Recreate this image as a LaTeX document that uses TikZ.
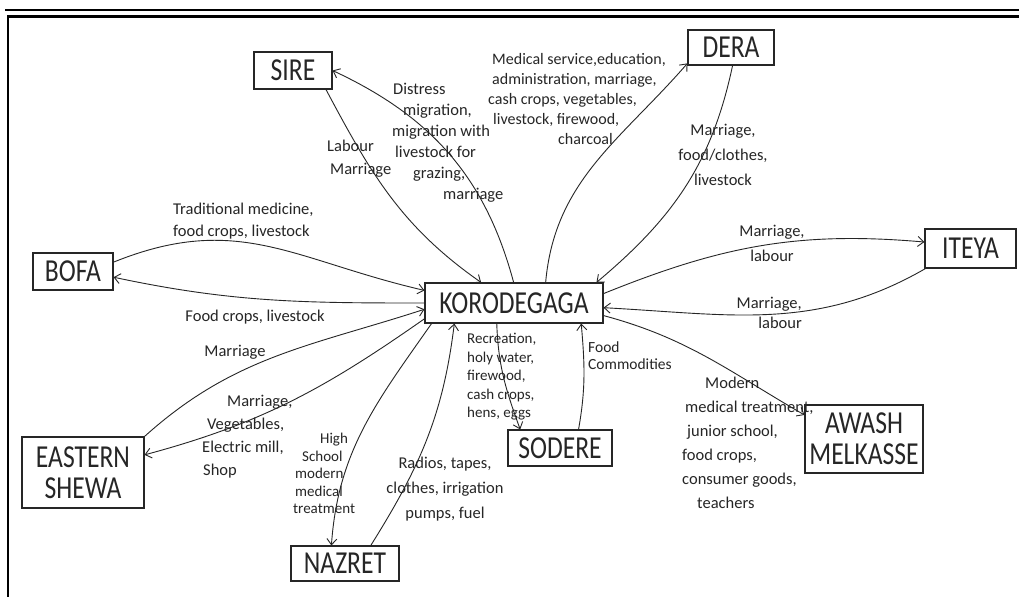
\documentclass[tikz,border=0pt]{standalone}
\usepackage{fontspec}
\setmainfont{Carlito}
\newfontfamily\boxfont[FakeStretch=0.8]{Carlito}
\usetikzlibrary{arrows.meta}
\definecolor{ink}{HTML}{262626}
\begin{document}
\begin{tikzpicture}[x=1pt,y=1pt,
  place/.style={draw=ink, line width=1.1pt, inner sep=0pt, text=ink, align=center,
    font=\boxfont\fontsize{32}{31}\selectfont},
  link/.style={draw=ink, line width=0.9pt, -{Straight Barb[length=6pt,width=10pt]}},
  lbl/.style={inner sep=0pt, text=ink, font=\fontsize{16.5}{22}\selectfont},
  slbl/.style={inner sep=0pt, text=ink, font=\fontsize{15}{18.5}\selectfont},
]
\useasboundingbox (0,0) rectangle (1019,-597);
\fill[white] (0,0) rectangle (1019,-597);
% frame
\draw[line width=2.2pt, black] (5,-10) -- (1019,-10);
\draw[line width=2.2pt, black] (1019,-16.5) -- (8,-16.5) -- (8,-597);

% places
\node[place, minimum width=78pt, minimum height=37pt] (sire) at (293,-70.5) {SIRE};
\node[place, minimum width=86pt, minimum height=35pt] (dera) at (731,-47.5) {DERA};
\node[place, minimum width=80pt, minimum height=37pt] (bofa) at (73,-271.5) {BOFA};
\node[place, minimum width=178pt, minimum height=40pt] (k) at (514,-303) {KORODEGAGA};
\node[place, minimum width=91pt, minimum height=39pt] (iteya) at (970.5,-248.5) {ITEYA};
\node[place, minimum width=118pt, minimum height=68pt] (awash) at (864,-439) {AWASH\\MELKASSE};
\node[place, minimum width=104pt, minimum height=36pt] (sodere) at (560,-448) {SODERE};
\node[place, minimum width=108pt, minimum height=35pt] (nazret) at (345,-563.5) {NAZRET};
\node[place, minimum width=122pt, minimum height=71pt] (es) at (83,-472.5) {EASTERN\\SHEWA};

% connectors
\draw[link] (sire.-30) to[out=-62,in=145] (k.148);
\draw[link] (k.91) to[out=105,in=-25] (sire.east);
\draw[link] (k.33) to[out=85,in=-131] (dera.200);
\draw[link] (dera.-85) to[out=-102,in=40] (k.14);
\draw[link] (bofa.13) to[out=22,in=167,looseness=1.1] (k.172);
\draw[link] (k.180) to[out=180,in=-12] (bofa.-8);
\draw[link] (k.6) to[out=22,in=175] (iteya.172);
\draw[link] (iteya.204) to[out=210,in=-3] (k.-3);
\draw[link] (k.-8) to[out=-15,in=150] (awash.158);
\draw[link] (k.230) to[out=-88,in=110] (sodere.155);
\draw[link] (sodere.45) to[out=80,in=-85] (k.-17.6);
\draw[link] (es.north east) to[out=42,in=198] (k.184);
\draw[link] (k.190) to[out=215,in=15] (es.16);
\draw[link] (k.194) to[out=235,in=86] (nazret.127);
\draw[link] (nazret.35) to[out=58,in=-97] (k.199);

% labels
\node[lbl, anchor=north west, align=left, font=\fontsize{16.5}{23}\selectfont] (lsire1) at (327,-140) {Labour\\\hspace*{3pt}Marriage};
\node[lbl, anchor=north west, align=left, font=\fontsize{16.5}{21}\selectfont] (lsire2) at (392,-83)
  {\hspace*{1pt}Distress\\\hspace*{11pt}migration,\\migration with\\\hspace*{3pt}livestock for\\\hspace*{21pt}grazing,\\\hspace*{51pt}marriage};
\node[lbl, anchor=north west, align=left, font=\fontsize{16}{20}\selectfont] (ldera1) at (488,-53)
  {\hspace*{4pt}Medical service,education,\\\hspace*{4pt}administration, marriage,\\cash crops, vegetables,\\\hspace*{5pt}livestock, firewood,\\\hspace*{70pt}charcoal};
\node[lbl, align=center, font=\fontsize{16.5}{25}\selectfont] (ldera2) at (723,-155) {Marriage,\\food/clothes,\\livestock};
\node[lbl, anchor=north west, align=left] (lbofa1) at (173,-203) {Traditional medicine,\\food crops, livestock};
\node[lbl] (lbofa2) at (255,-317) {Food crops, livestock};
\node[lbl] (les1) at (235,-352) {Marriage};
\node[lbl, anchor=north west, align=left, font=\fontsize{16.5}{23}\selectfont] (les2) at (202,-395)
  {\hspace*{25pt}Marriage,\\\hspace*{5pt}Vegetables,\\Electric mill,\\\hspace*{1pt}Shop};
\node[slbl, anchor=north west, align=left, font=\fontsize{15}{17.5}\selectfont] (lnaz1) at (293,-433)
  {\hspace*{27pt}High\\\hspace*{9pt}School\\\hspace*{2pt}modern\\\hspace*{2pt}medical\\treatment};
\node[lbl, align=center, font=\fontsize{16.5}{25}\selectfont] (lnaz2) at (445,-489) {Radios, tapes,\\clothes, irrigation\\pumps, fuel};
\node[slbl, anchor=north west, align=left] (lsod1) at (467,-333) {Recreation,\\holy water,\\firewood,\\cash crops,\\hens, eggs};
\node[slbl, anchor=north west, align=left, font=\fontsize{15.5}{17}\selectfont] (lsod2) at (588,-342) {Food\\Commodities};
\node[lbl, align=center, font=\fontsize{16.5}{25}\selectfont] (lit1) at (772,-243) {Marriage,\\labour};
\node[lbl, anchor=north east, align=right, font=\fontsize{16.5}{20}\selectfont] (lit2) at (802,-297) {Marriage,\\labour};
\node[lbl, anchor=north west, align=left, font=\fontsize{16.5}{24}\selectfont] (law) at (682,-377)
  {\hspace*{23pt}Modern\\\hspace*{3pt}medical treatment,\\\hspace*{5pt}junior school,\\food crops,\\consumer goods,\\\hspace*{15pt}teachers};
\end{tikzpicture}
\end{document}
